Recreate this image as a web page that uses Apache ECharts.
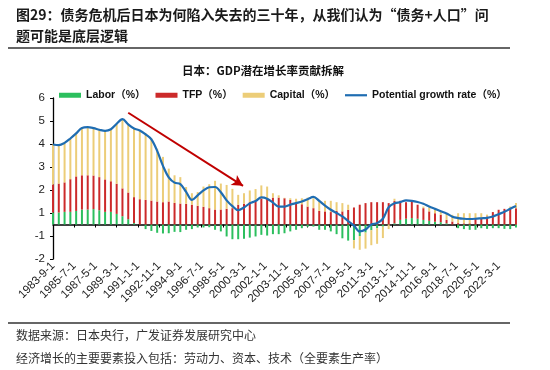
<!DOCTYPE html>
<html><head><meta charset="utf-8">
<script src="https://cdn.jsdelivr.net/npm/echarts@6/dist/echarts.min.js"></script>
<style>html,body{margin:0;padding:0;background:#fff}#c{width:550px;height:370px}</style>
</head><body><div id="c"></div>
<script>
// Semiannual observations starting 1983-9 (every 6 months) to 2023-9
const startYear = 1983, startMonth = 9, endYear = 2023, endMonth = 9;
const tickLabels = ['1983-9-1','1985-7-1','1987-5-1','1989-3-1','1991-1-1','1992-11-1','1994-9-1','1996-7-1','1998-5-1','2000-3-1','2002-1-1','2003-11-1','2005-9-1','2007-7-1','2009-5-1','2011-3-1','2013-1-1','2014-11-1','2016-9-1','2018-7-1','2020-5-1','2022-3-1'];
const labor = [0.52,0.52,0.55,0.55,0.59,0.65,0.65,0.67,0.62,0.55,0.55,0.46,0.36,0.23,0.06,0.0,-0.2,-0.28,-0.36,-0.39,-0.38,-0.32,-0.33,-0.23,-0.2,-0.13,-0.13,-0.12,-0.23,-0.3,-0.52,-0.64,-0.64,-0.62,-0.57,-0.52,-0.45,-0.48,-0.42,-0.42,-0.38,-0.3,-0.23,-0.16,-0.1,-0.09,-0.23,-0.23,-0.3,-0.42,-0.6,-0.7,-0.68,-0.5,-0.35,-0.25,-0.16,-0.09,0.0,0.05,0.2,0.25,0.28,0.25,0.2,0.16,0.12,0.1,0.05,0.0,-0.16,-0.2,-0.23,-0.23,-0.16,-0.19,-0.16,-0.16,-0.19,-0.2,-0.13];
const tfp = [1.22,1.26,1.28,1.42,1.5,1.49,1.49,1.46,1.44,1.41,1.33,1.31,1.21,1.16,1.13,1.10,1.07,1.04,1.0,0.97,1.0,0.94,0.91,0.9,0.86,0.81,0.77,0.71,0.65,0.65,0.68,0.71,0.86,0.9,0.97,1.0,1.12,1.14,1.17,1.17,1.14,1.07,0.93,0.88,0.78,0.71,0.59,0.57,0.54,0.59,0.57,0.64,0.74,0.86,0.93,0.97,0.97,0.97,0.93,0.97,0.83,0.72,0.72,0.61,0.51,0.41,0.37,0.32,0.15,0.13,0.06,0.05,0.05,0.28,0.28,0.35,0.54,0.64,0.68,0.71,0.71];
const capital = [1.74,1.67,1.76,1.77,1.87,2.08,2.08,2.04,2.06,2.11,2.26,2.61,3.01,2.96,2.98,2.99,2.9,2.7,2.3,1.97,1.43,1.2,1.15,0.73,0.5,0.6,0.88,1.04,1.25,1.13,1.04,0.84,0.43,0.46,0.51,0.54,0.58,0.51,0.19,0.1,0.02,0.07,0.19,0.26,0.39,0.43,0.48,0.46,0.49,0.38,0.36,0.22,-0.36,-0.6,-0.7,-0.65,-0.68,-0.5,-0.2,0.1,0.0,0.0,0.0,0.0,0.07,0.18,0.15,0.15,0.29,0.29,0.43,0.44,0.44,0.21,0.21,0.08,0.0,0.0,0.0,0.07,0.22];
const potential = [3.48,3.45,3.55,3.74,3.96,4.2,4.23,4.19,4.12,4.07,4.14,4.38,4.58,4.35,4.17,4.09,3.92,3.7,3.2,2.55,2.05,1.82,1.76,1.42,1.07,1.27,1.48,1.62,1.63,1.4,1.05,0.8,0.62,0.74,0.92,1.02,1.18,1.12,0.95,0.78,0.78,0.86,0.93,1.0,1.1,1.2,1.03,0.82,0.64,0.5,0.35,0.15,-0.05,-0.3,-0.22,0.0,0.06,0.25,0.75,0.92,0.97,1.05,1.03,0.98,0.9,0.78,0.68,0.58,0.48,0.34,0.28,0.25,0.24,0.25,0.27,0.29,0.35,0.45,0.55,0.68,0.8];

// monthly category axis (dates axis like Excel)
const months = [];
for (let y = startYear, m = startMonth; y < endYear || (y === endYear && m <= endMonth); ) {
  months.push(y + '-' + m + '-1');
  m++; if (m > 12) { m = 1; y++; }
}
function spread(arr) {
  const out = months.map(() => null);
  arr.forEach((v, i) => { out[i * 6] = v; });
  return out;
}
const fontLatin = '"Liberation Sans", Arial, "Noto Sans CJK SC", sans-serif';
const fontCJK = '"Noto Sans CJK SC", "Liberation Sans", sans-serif';

const chart = echarts.init(document.getElementById('c'), null, {renderer: 'canvas'});
const barW = 2;
chart.setOption({
  animation: false,
  backgroundColor: '#fff',
  grid: {left: 53, right: 34, top: 98, bottom: 111, containLabel: false},
  legend: {
    left: 54, top: 85, itemWidth: 22, itemHeight: 5, itemGap: 10,
    textStyle: {fontFamily: fontLatin, fontSize: 10.5, fontWeight: 'bold', color: '#111'},
    data: [
      {name: 'Labor（%）', icon: 'rect'},
      {name: 'TFP（%）', icon: 'rect'},
      {name: 'Capital（%）', icon: 'rect'},
      {name: 'Potential growth rate（%）', icon: 'path://M0,0H22V2.2H0Z'}
    ]
  },
  xAxis: [{
    type: 'category', data: months, boundaryGap: false,
    axisLine: {onZero: true, lineStyle: {color: '#000', width: 1.5}},
    axisTick: {show: true, interval: (i, v) => tickLabels.indexOf(v) >= 0, length: 3, lineStyle: {color: '#000', width: 1}},
    axisLabel: {show: false}, splitLine: {show: false}
  }, {
    type: 'category', data: months, boundaryGap: false, position: 'bottom',
    axisLine: {show: false, onZero: false}, axisTick: {show: false},
    axisLabel: {
      interval: (i, v) => tickLabels.indexOf(v) >= 0, rotate: 45, margin: 5,
      fontFamily: fontLatin, fontSize: 11.5, color: '#222'
    }
  }],
  yAxis: {
    type: 'value', min: -1.5, max: 5.5, interval: 1,
    axisLine: {show: true, lineStyle: {color: '#000', width: 1.3}},
    axisTick: {show: true, length: 3, lineStyle: {color: '#000'}},
    splitLine: {show: false},
    axisLabel: {
      fontFamily: fontLatin, fontSize: 11.5, color: '#222', margin: 8,
      formatter: v => { const r = Math.sign(v) * Math.round(Math.abs(v) + 1e-9); return String(r); }
    }
  },
  series: [
    {name: 'Labor（%）', type: 'bar', stack: 's', data: spread(labor), barWidth: barW, itemStyle: {color: '#2CBF5E'}},
    {name: 'TFP（%）', type: 'bar', stack: 's', data: spread(tfp), barWidth: barW, itemStyle: {color: '#CC2A2A'}},
    {name: 'Capital（%）', type: 'bar', stack: 's', data: spread(capital), barWidth: barW, itemStyle: {color: '#ECCD78'}},
    {name: 'Potential growth rate（%）', type: 'line', data: spread(potential), connectNulls: true,
     smooth: 0.35, showSymbol: false, symbol: 'none', z: 5,
     lineStyle: {color: '#1F6DB2', width: 2.2}, itemStyle: {color: '#1F6DB2'},
     markLine: {
       silent: true, symbol: ['none', 'arrow'], symbolSize: [9, 11], label: {show: false},
       lineStyle: {color: '#C00000', width: 2, type: 'solid'},
       data: [[{coord: ['1990-3-1', 4.86]}, {coord: ['2000-2-1', 1.68]}]]
     }}
  ],
  graphic: [
    {type: 'text', left: 16, top: 8, style: {text: '图29：债务危机后日本为何陷入失去的三十年，从我们认为“债务+人口”问', font: 'bold 14px ' + fontCJK, fill: '#1a1a1a'}},
    {type: 'text', left: 16, top: 29, style: {text: '题可能是底层逻辑', font: 'bold 14px ' + fontCJK, fill: '#1a1a1a'}},
    {type: 'line', shape: {x1: 8, y1: 48, x2: 510, y2: 48}, style: {stroke: '#333', lineWidth: 1.5}},
    {type: 'text', x: 263, y: 71, style: {text: '日本：GDP潜在增长率贡献拆解', font: 'bold 11.5px ' + fontCJK, fill: '#111', align: 'center', verticalAlign: 'middle'}},
    {type: 'line', shape: {x1: 8, y1: 323, x2: 510, y2: 323}, style: {stroke: '#333', lineWidth: 1.5}},
    {type: 'text', x: 16, y: 335, style: {text: '数据来源：日本央行，广发证券发展研究中心', font: '12px ' + fontCJK, fill: '#333', verticalAlign: 'middle'}},
    {type: 'text', x: 16, y: 358, style: {text: '经济增长的主要要素投入包括：劳动力、资本、技术（全要素生产率）', font: '12px ' + fontCJK, fill: '#333', verticalAlign: 'middle'}}
  ]
});
</script></body></html>
